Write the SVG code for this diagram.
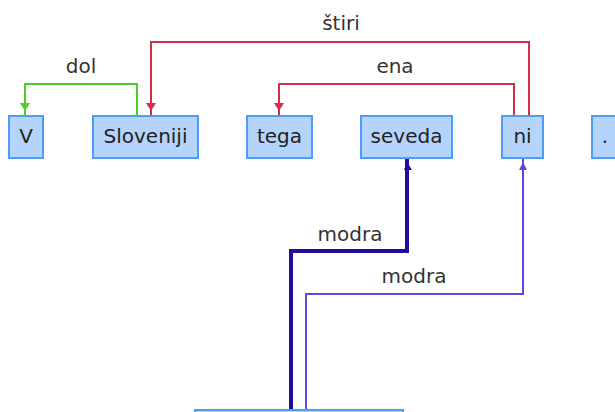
<svg xmlns="http://www.w3.org/2000/svg" width="615" height="412" viewBox="0 0 615 412">
<style>
.box{fill:#b5d4fc;stroke:#4c9cf8;stroke-width:2}
.t{font-family:"DejaVu Sans",Verdana,sans-serif;font-size:20px;fill:#222;text-anchor:middle}
.lbl{font-family:"DejaVu Sans",Verdana,sans-serif;font-size:20px;fill:#333;text-anchor:middle}
.red{fill:none;stroke:#d0304c;stroke-width:2}
.grn{fill:none;stroke:#4ccc2c;stroke-width:2}
.dblue{fill:none;stroke:#1e0f9c;stroke-width:4}
.blue{fill:none;stroke:#5a48e0;stroke-width:2}
</style>
<rect width="615" height="412" fill="#fff"/>
<g id="connectors">
  <g id="e-dol">
    <polyline class="grn" points="137,116 137,84 25,84 25,116"/>
    <polygon points="20,103 30,103 25,111" fill="#4ccc2c"/>
    <text class="lbl" x="81" y="73">dol</text>
  </g>
  <g id="e-stiri">
    <polyline class="red" points="529,116 529,42 151,42 151,116"/>
    <polygon points="146,103 156,103 151,111" fill="#d0304c"/>
    <text class="lbl" x="341" y="30">štiri</text>
  </g>
  <g id="e-ena">
    <polyline class="red" points="514,116 514,84 279,84 279,116"/>
    <polygon points="274,103 284,103 279,111" fill="#d0304c"/>
    <text class="lbl" x="395" y="73">ena</text>
  </g>
  <g id="e-modra1">
    <polyline class="dblue" points="407,159 407,251 291,251 291,412"/>
    <polygon points="404,170 412,170 407,162" fill="#1e0f9c"/>
    <text class="lbl" x="350" y="241">modra</text>
  </g>
  <g id="e-modra2">
    <polyline class="blue" points="523,159 523,294 306,294 306,412"/>
    <polygon points="519,170 527,170 523,162" fill="#5a48e0"/>
    <text class="lbl" x="414" y="283">modra</text>
  </g>
</g>
<g id="n-V"><rect class="box" x="9" y="116" width="34" height="42"/><text class="t" x="26" y="143">V</text></g>
<g id="n-Sloveniji"><rect class="box" x="93" y="116" width="105" height="42"/><text class="t" x="145.5" y="143">Sloveniji</text></g>
<g id="n-tega"><rect class="box" x="247" y="116" width="65" height="42"/><text class="t" x="279.5" y="143">tega</text></g>
<g id="n-seveda"><rect class="box" x="361" y="116" width="91" height="42"/><text class="t" x="406.5" y="143">seveda</text></g>
<g id="n-ni"><rect class="box" x="502" y="116" width="41" height="42"/><text class="t" x="522.5" y="143">ni</text></g>
<g id="n-dot"><rect class="box" x="592" y="116" width="34" height="42"/><text class="t" x="605" y="143">.</text></g>
<g id="n-root"><rect class="box" x="195" y="410" width="208" height="40"/></g>
</svg>
